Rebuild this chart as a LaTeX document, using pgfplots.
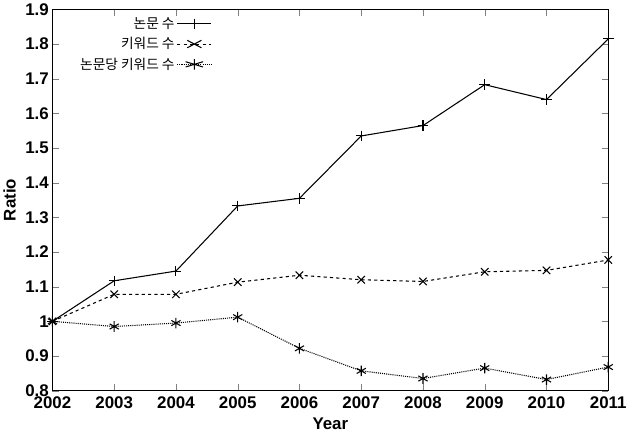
\documentclass[border=0pt]{standalone}
\usepackage{pgfplots}
\pgfplotsset{compat=1.18}
\usepackage{fontspec}
\setmainfont{Liberation Sans}
\newfontfamily\kr{Noto Sans CJK KR}
\begin{document}
\begin{tikzpicture}
\begin{axis}[
  width=525bp, height=360bp, scale only axis,
  xmin=2002, xmax=2011, ymin=0.8, ymax=1.9,
  xtick={2002,...,2011}, ytick={0.8,0.9,...,1.9},
  /pgf/number format/assume math mode=true,
  ticklabel style={font=\fontsize{16}{18}\selectfont\bfseries},
  x tick label style={/pgf/number format/1000 sep={}, yshift=-2pt},
  y tick label style={/pgf/number format/fixed},
  xlabel={\fontsize{16}{18}\selectfont\bfseries Year}, ylabel={\fontsize{16}{18}\selectfont\bfseries Ratio},
  xlabel style={yshift=-2pt}, ylabel style={yshift=2pt},
  tick align=inside, major tick length=6pt,
  legend style={draw=none, fill=none, font=\kr\fontsize{13}{15}\selectfont, at={(0.04,0.99)}, anchor=north west, row sep=3pt},
  legend cell align=right, legend plot pos=right,
  legend image post style={xscale=1.9},
  every axis plot/.append style={black, line width=1pt, mark size=5pt},
]
\addplot[solid, mark=+] coordinates {(2002,1.0)(2003,1.117)(2004,1.145)(2005,1.333)(2006,1.355)(2007,1.535)(2008,1.565)(2009,1.683)(2010,1.640)(2011,1.815)};
\addlegendentry{논문 수}
\addplot[dashed, mark=x, mark options={solid}] coordinates {(2002,1.0)(2003,1.078)(2004,1.078)(2005,1.113)(2006,1.133)(2007,1.120)(2008,1.115)(2009,1.143)(2010,1.147)(2011,1.177)};
\addlegendentry{키워드 수}
\addplot[densely dotted, mark=asterisk, mark options={solid}] coordinates {(2002,1.0)(2003,0.985)(2004,0.995)(2005,1.012)(2006,0.922)(2007,0.857)(2008,0.835)(2009,0.865)(2010,0.832)(2011,0.868)};
\addlegendentry{논문당 키워드 수}
\end{axis}
\end{tikzpicture}
\end{document}
